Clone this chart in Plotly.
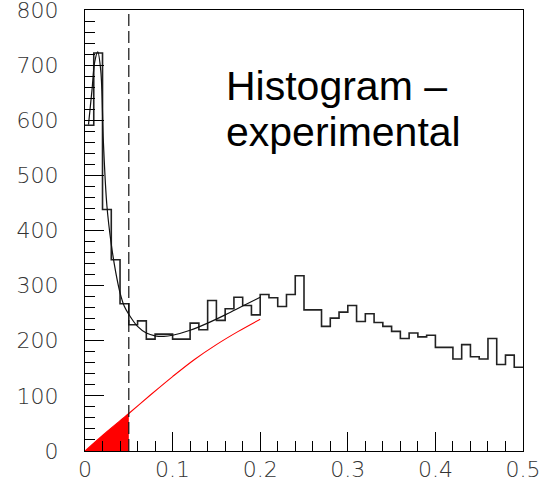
import plotly.graph_objects as go

# Histogram: 50 bins of width 0.01 on [0, 0.5]
bin_edges = [round(i * 0.01, 2) for i in range(51)]
counts = [591, 722, 438, 347, 267, 229, 236, 203, 212, 212,
          203, 203, 232, 220, 273, 237, 258, 279, 264, 247,
          284, 278, 262, 284, 318, 256, 256, 226, 241, 252,
          264, 235, 249, 233, 226, 217, 204, 214, 207, 210,
          188, 188, 167, 193, 171, 167, 204, 157, 174, 152]

# Total fit (black curve)
fit_x = [0.004, 0.008, 0.011, 0.0145, 0.018, 0.021, 0.025, 0.03, 0.035, 0.04,
         0.045, 0.05, 0.06, 0.07, 0.08, 0.09, 0.1, 0.12, 0.14, 0.16, 0.18, 0.2]
fit_y = [592, 655, 705, 724, 690, 560, 445, 375, 325, 287,
         262, 248, 226, 214, 209, 208, 210, 219, 232, 247, 263, 279]

# Background component of the fit (red curve)
bg_x = [0.0, 0.025, 0.05, 0.075, 0.1, 0.125, 0.15, 0.175, 0.2]
bg_y = [0, 35, 68, 102, 135, 166, 193, 217, 239]

# Cut position (dashed line, shaded region below it)
CUT = 0.05

x_ticks = [0, 0.1, 0.2, 0.3, 0.4, 0.5]
x_tick_labels = ["0", "0.1", "0.2", "0.3", "0.4", "0.5"]
y_ticks = [0, 100, 200, 300, 400, 500, 600, 700, 800]

fig = go.Figure()

# shaded background area below the cut
fill_x = [x for x in bg_x if x <= CUT]
fill_y = [y for x, y in zip(bg_x, bg_y) if x <= CUT]
fig.add_trace(go.Scatter(x=fill_x, y=fill_y, mode="lines", fill="tozeroy",
                         fillcolor="#ff0000", line=dict(width=0, color="#ff0000"),
                         hoverinfo="skip"))

# histogram outline
fig.add_trace(go.Scatter(x=bin_edges, y=counts + [counts[-1]], mode="lines",
                         line=dict(shape="hv", color="#222222", width=1.6)))

# background curve
fig.add_trace(go.Scatter(x=bg_x, y=bg_y, mode="lines",
                         line=dict(shape="spline", color="#ff0000", width=1.1)))

# total fit
fig.add_trace(go.Scatter(x=fit_x, y=fit_y, mode="lines",
                         line=dict(shape="spline", color="#111111", width=1.2)))

fig.add_shape(type="line", xref="x", yref="y", x0=CUT, x1=CUT, y0=0, y1=800,
              line=dict(color="#111111", width=1.2, dash="12px,5px"))

text_font = dict(family="Liberation Sans, Arial, sans-serif", size=41, color="#000000")
fig.add_annotation(text="Histogram –", xref="paper", yref="paper",
                   x=(224 - 85) / 438, y=(451 - 111) / 441,
                   xanchor="left", yanchor="bottom", showarrow=False,
                   font=text_font)
fig.add_annotation(text="experimental", xref="paper", yref="paper",
                   x=(224 - 85) / 438, y=(451 - 157) / 441,
                   xanchor="left", yanchor="bottom", showarrow=False,
                   font=text_font)

tick_font = dict(family="DejaVu Sans, sans-serif", size=22, color="#333333",
                 weight=200)

fig.update_xaxes(range=[0, 0.5], tickvals=x_ticks, ticktext=x_tick_labels,
                 ticks="inside", ticklen=19, tickwidth=1, tickcolor="#000000",
                 minor=dict(dtick=0.02, ticks="inside", ticklen=10,
                            tickwidth=1, tickcolor="#000000"),
                 showline=True, linecolor="#000000", linewidth=1, mirror=True,
                 showgrid=False, zeroline=False, tickfont=tick_font,
                 ticklabelstandoff=-1, ticklabeloverflow="allow",
                 automargin=False)
fig.update_yaxes(range=[0, 800], tickvals=y_ticks,
                 ticks="inside", ticklen=19, tickwidth=1, tickcolor="#000000",
                 minor=dict(dtick=20, ticks="inside", ticklen=10,
                            tickwidth=1, tickcolor="#000000"),
                 showline=True, linecolor="#000000", linewidth=1, mirror=True,
                 showgrid=False, zeroline=False, tickfont=tick_font,
                 ticklabelstandoff=21, ticklabeloverflow="allow",
                 automargin=False)

fig.update_layout(width=545, height=484, showlegend=False,
                  margin=dict(l=85, r=22, t=10, b=33, pad=0),
                  paper_bgcolor="#ffffff", plot_bgcolor="#ffffff")

fig.write_html("out.html")
